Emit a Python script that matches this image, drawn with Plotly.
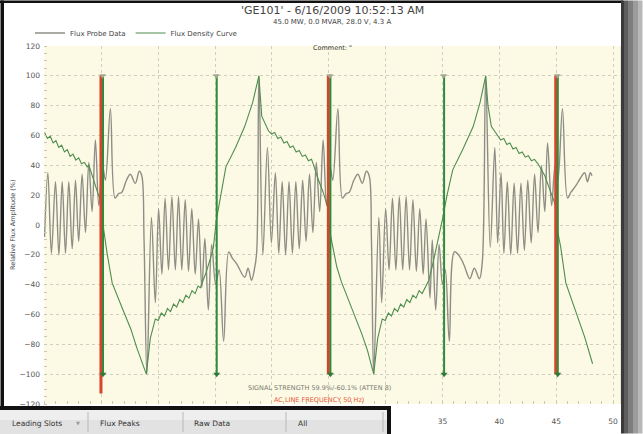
import plotly.graph_objects as go

# ---------------- data ----------------
probe_x = [0.0, 0.29, 0.6, 0.96, 1.26, 1.55, 1.84, 2.13, 2.43, 2.72, 3.0, 3.3, 3.6, 3.89, 4.18, 4.47, 4.77,
           5.1, 5.35, 5.79, 6.2, 6.5, 6.8, 7.2, 7.54, 7.98, 8.33, 8.55, 8.75, 9.0,
           9.4, 9.74, 10.03, 10.32, 10.6, 10.9, 11.2, 11.5, 11.78, 12.07, 12.37, 12.66, 12.95, 13.25, 13.54,
           13.83, 14.1, 14.4, 14.7, 15.05, 15.35, 15.75, 16.2, 16.5, 16.9, 17.6, 17.9, 18.2, 18.45, 18.65, 18.85,
           19.2, 19.6, 19.95, 20.3, 20.6, 20.9, 21.2, 21.5, 21.8, 22.1, 22.4, 22.7, 23.0, 23.3, 23.6, 23.9,
           24.2, 24.5, 24.8, 25.1, 25.35, 25.8, 26.2, 26.5, 26.8, 27.2, 27.55, 27.95, 28.3, 28.55, 28.75, 28.95,
           29.4, 29.65, 30.0, 30.3, 30.6, 30.9, 31.2, 31.5, 31.8, 32.1, 32.4, 32.7, 33.0, 33.3, 33.55, 33.9,
           34.1, 34.4, 34.7, 35.0, 35.25, 35.6, 36.05, 36.5, 36.9, 37.4, 37.8, 38.25, 38.5, 38.8,
           39.2, 39.6, 39.85, 40.15, 40.4, 40.7, 41.0, 41.3, 41.6, 41.9, 42.2, 42.5, 42.8, 43.1, 43.4, 43.7,
           44.0, 44.24, 44.6, 44.9, 45.15, 45.55, 46.0, 46.3, 46.7, 47.1, 47.5, 47.75, 48.0, 48.15]
probe_y = [-8, 35, -19, 29, -20, 29, -19, 29, -16, 30, -11, 34, -5, 42, 9, 57, 13,
           40, 30, 78, 18, 21, 22, 30, 34, 28, 36, 33, -10, -100,
           5, -52, 11, -33, 18, -30, 19, -30, 19, -30, 17, -31, 11, -33, 4,
           -42, -9, -57, -13, -40, -30, -78, -18, -22, -26, -35, -29, -37, -30, -19, 100,
           -20, 52, -12, 35, -19, 29, -20, 29, -19, 29, -16, 30, -11, 34, -5, 42,
           9, 57, 13, 40, 30, 78, 18, 21, 22, 30, 34, 28, 36, 33, -10, -100,
           5, -52, 11, -30, 18, -30, 19, -30, 19, -30, 17, -31, 11, -33, 4, -49,
           -10, -57, -13, -40, -30, -78, -18, -21, -27, -36, -29, -36, -25, 100,
           -15, 52, -12, 35, -19, 29, -20, 28, -19, 28, -17, 30, -12, 34, -5, 40,
           9, 55, 13, 40, 30, 78, 18, 22, 26, 31, 35, 29, 35, 33]

density_x = [0.0, 0.25, 0.5, 0.75, 1.0, 1.25, 1.5, 1.75, 2.0, 2.25, 2.5, 2.75, 3.0, 3.25, 3.5, 3.75, 3.9,
             4.3, 4.7, 5.0, 5.2, 5.5, 5.95, 6.9, 7.6, 8.1, 8.95,
             9.3, 9.74, 10.0, 10.27, 10.54, 10.81, 11.08, 11.35, 11.62, 11.89, 12.16, 12.43, 12.7, 12.97, 13.24,
             13.5, 13.7, 14.2, 14.6, 14.85, 15.1, 15.45, 15.95, 16.8, 17.6, 18.3, 18.85,
             19.1, 19.7, 19.97, 20.24, 20.51, 20.78, 21.05, 21.32, 21.59, 21.86, 22.13, 22.4, 22.67, 22.94,
             23.21, 23.48, 23.65, 24.0, 24.5, 24.9, 25.1, 25.7, 26.1, 27.0, 27.9, 28.4, 28.95,
             29.3, 29.7, 29.97, 30.24, 30.51, 30.78, 31.05, 31.32, 31.59, 31.86, 32.13, 32.4, 32.67, 32.94,
             33.21, 33.5, 33.8, 34.15, 34.7, 35.0, 35.4, 35.9, 36.8, 37.7, 38.3, 38.8,
             39.0, 39.3, 39.85, 40.12, 40.39, 40.66, 40.93, 41.2, 41.47, 41.74, 42.01, 42.28, 42.55, 42.82,
             43.09, 43.4, 44.0, 44.5, 44.9, 45.1, 45.4, 45.85, 46.7, 47.5, 48.2]
density_y = [62, 58, 59.5, 55, 56.5, 52, 53.5, 49, 50.5, 46, 47.5, 43.5, 45, 41, 42, 39, 40,
             30, 21, 15, -3, -19, -39, -57, -70, -82, -100,
             -76, -63, -64, -59, -61, -56, -58, -53, -55, -50, -52, -47, -49, -44, -46,
             -41, -42, -32, -22, -15, 3, 19, 39, 52, 66, 82, 100,
             73, 63, 61, 62, 58, 59, 55, 56, 52, 53, 49, 50, 46, 47,
             43, 44, 40.5, 32, 22, 12, -5, -28, -38, -55, -73, -84, -100,
             -76, -63, -64, -59, -61, -56, -58, -53, -55, -50, -52, -47, -49, -44,
             -46, -42, -37, -26, -8, 4, 20, 37, 51, 66, 82, 100,
             80, 66, 60, 57, 58, 54, 55, 51, 52, 48, 49, 45.5, 46.5, 43,
             44, 41, 33, 22, 14, -3, -15, -39, -57, -75, -93]

slot_x = [5, 15, 25, 35, 45]          # green slot markers
lead_x = [5, 25, 45]                   # red leading-slot markers
lead_bottom = [-113, -100, -100]
mark_top, mark_bottom = 100, -100

y_ticks = list(range(-120, 121, 20))
x_ticks = list(range(0, 51, 5))
x_tick_labels = ["", "", "", "", "", "", "", "35", "40", "45", "50"]  # lower ones hidden by the tab bar

title_text = "'GE101' - 6/16/2009 10:52:13 AM"
subtitle_text = "45.0 MW, 0.0 MVAR, 28.0 V, 4.3 A"
tabs = ["Leading Slots", "Flux Peaks", "Raw Data", "All"]

# ---------------- layout helpers ----------------
W, H = 643, 434
L, R, T, B = 44, 22, 46, 30
PW, PH = W - L - R, H - T - B
def px(x):
    return (x - L) / PW
def py(y):
    return (H - B - y) / PH

FONT = "DejaVu Sans"
GREEN = "#2f8a3c"
RED = "#d8432c"

fig = go.Figure()
fig.add_trace(go.Scatter(x=probe_x, y=probe_y, mode="lines", name="Flux Probe Data",
                         line=dict(color="#8e8e86", width=1.4, shape="spline", smoothing=1.0)))
fig.add_trace(go.Scatter(x=density_x, y=density_y, mode="lines", name="Flux Density Curve",
                         line=dict(color="#4f8d4f", width=1.1)))

rx, ry = [], []
for x, yb in zip(lead_x, lead_bottom):
    rx += [x - 0.04, x - 0.04, None]
    ry += [mark_top, yb, None]
fig.add_trace(go.Scatter(x=rx, y=ry, mode="lines", line=dict(color=RED, width=3),
                         showlegend=False, hoverinfo="skip"))
gx, gy = [], []
for x in slot_x:
    gx += [x + 0.14, x + 0.14, None]
    gy += [mark_top, mark_bottom, None]
fig.add_trace(go.Scatter(x=gx, y=gy, mode="lines", line=dict(color=GREEN, width=2),
                         showlegend=False, hoverinfo="skip"))
fig.add_trace(go.Scatter(x=[x + 0.1 for x in slot_x], y=[mark_top] * len(slot_x), mode="markers",
                         marker=dict(symbol="triangle-down", size=6, color="#a3a78f"),
                         showlegend=False, hoverinfo="skip"))
fig.add_trace(go.Scatter(x=[x + 0.14 for x in slot_x], y=[mark_bottom] * len(slot_x), mode="markers",
                         marker=dict(symbol="triangle-down", size=6, color="#2e7a38"),
                         showlegend=False, hoverinfo="skip"))

shapes = []
shapes.append(dict(type="line", xref="paper", yref="paper", x0=1, x1=1, y0=0, y1=1,
                   line=dict(color="#d4d4cc", width=1), layer="above"))
# window frame (top / left black edge, right drop shadow)
shapes.append(dict(type="rect", xref="paper", yref="paper", x0=px(0), x1=px(623), y0=py(3), y1=py(0.5),
                   fillcolor="#111", line_width=0, layer="above"))
shapes.append(dict(type="rect", xref="paper", yref="paper", x0=px(0.5), x1=px(4), y0=py(433.5), y1=py(0.5),
                   fillcolor="#111", line_width=0, layer="above"))
for (a, b, c) in [(621, 624, "#3a3a3a"), (624, 628, "#5e5e5e"), (628, 633, "#7e7e7e"),
                  (633, 638, "#9c9c9c"), (638, 642.5, "#b8b8b8")]:
    shapes.append(dict(type="rect", xref="paper", yref="paper", x0=px(a), x1=px(b), y0=py(433.5),
                       y1=py(0.5), fillcolor=c, line_width=0, layer="above"))
# tab bar window
shapes.append(dict(type="rect", xref="paper", yref="paper", x0=px(0), x1=px(391), y0=py(434), y1=py(407),
                   fillcolor="#e2e2e2", line_width=0, layer="above"))
shapes.append(dict(type="rect", xref="paper", yref="paper", x0=px(0), x1=px(388), y0=py(420), y1=py(410),
                   fillcolor="#eeeeee", line_width=0, layer="above"))
shapes.append(dict(type="rect", xref="paper", yref="paper", x0=px(0), x1=px(391), y0=py(410), y1=py(406),
                   fillcolor="#111", line_width=0, layer="above"))
shapes.append(dict(type="rect", xref="paper", yref="paper", x0=px(387), x1=px(391), y0=py(434), y1=py(406),
                   fillcolor="#111", line_width=0, layer="above"))
for sx in [88, 183, 286, 383]:
    shapes.append(dict(type="line", xref="paper", yref="paper", x0=px(sx), x1=px(sx), y0=py(432), y1=py(412),
                       line=dict(color="#b8b8b8", width=1), layer="above"))

def note(text, x, y, size, color, xanchor="center", angle=0):
    return dict(text=text, x=px(x), y=py(y), xref="paper", yref="paper", showarrow=False,
                xanchor=xanchor, yanchor="middle", textangle=angle,
                font=dict(family=FONT, size=size, color=color))

ann = [
    note(title_text, 332, 10, 11, "#444"),
    note(subtitle_text, 332, 22, 7, "#444"),
    note('Comment: "', 332, 48, 6.5, "#333"),
    note("SIGNAL STRENGTH 59.9%/-60.1% (ATTEN 8)", 319, 388, 6.5, "#7a7a72"),
    note("AC LINE FREQUENCY 50 Hz)", 319, 400, 6.5, "#e8583a"),
    note("Relative Flux Amplitude (%)", 13, 225, 6.5, "#444", angle=-90),
]
for t, tx in zip(tabs, [10, 98, 192, 296]):
    ann.append(note(t, tx, 423, 7.5, "#333", xanchor="left"))
ann.append(note("▼", 78, 423, 5, "#999"))

fig.update_layout(
    template="none",
    width=W, height=H, margin=dict(l=L, r=R, t=T, b=B, autoexpand=False),
    paper_bgcolor="white", plot_bgcolor="#fcfae5",
    shapes=shapes, annotations=ann, showlegend=True,
    legend=dict(orientation="h", xref="container", yref="container", x=30 / W, y=1 - 33 / H,
                xanchor="left", yanchor="middle",
                font=dict(family=FONT, size=7, color="#444"), bgcolor="rgba(0,0,0,0)",
                itemwidth=30, tracegroupgap=0),
    font=dict(family=FONT),
)
fig.update_xaxes(range=[-0.05, 50.7], tickvals=x_ticks, ticktext=x_tick_labels, automargin=False,
                 showgrid=True, gridcolor="#cfcfc0",
                 griddash="dot", gridwidth=1, zeroline=False, showline=False,
                 ticks="", ticklabelstandoff=11,
                 tickfont=dict(family=FONT, size=7.5, color="#555"),
                 minor=dict(dtick=1, ticks="inside", ticklen=3, tickcolor="#c8c8b8", showgrid=False))
fig.update_yaxes(range=[-120, 120], tickvals=y_ticks, automargin=False, showgrid=True, gridcolor="#cfcfc0",
                 griddash="dot", gridwidth=1, zeroline=False, showline=False,
                 ticks="", ticklabelstandoff=3,
                 tickfont=dict(family=FONT, size=7.5, color="#555"),
                 minor=dict(dtick=5, ticks="inside", ticklen=3, tickcolor="#c8c8b8", showgrid=False))

fig.write_html("out.html", config={"displayModeBar": False},
               post_script="document.body.style.margin='0px';")
